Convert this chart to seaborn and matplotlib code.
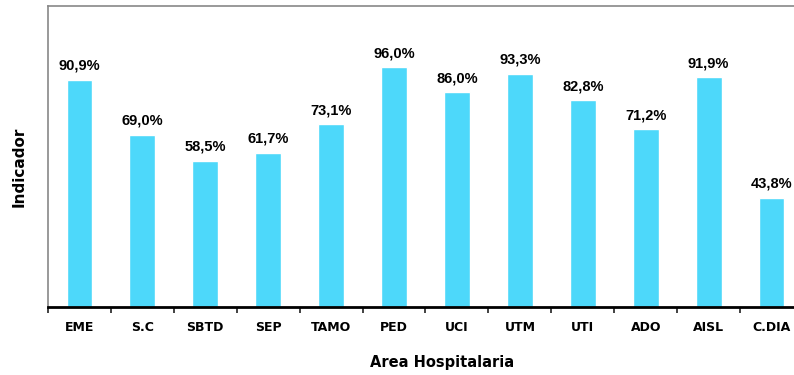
import matplotlib
matplotlib.use("Agg")
import matplotlib.pyplot as plt
import seaborn as sns
import pandas as pd
import numpy as np

areas = ["EME", "S.C", "SBTD", "SEP", "TAMO", "PED", "UCI", "UTM", "UTI", "ADO", "AISL", "C.DIA"]
indicador = [90.9, 69.0, 58.5, 61.7, 73.1, 96.0, 86.0, 93.3, 82.8, 71.2, 91.9, 43.8]

df = pd.DataFrame({"area": areas, "valor": indicador})

sns.set_theme(style="white")
plt.rcParams["font.family"] = ["DejaVu Sans"]
plt.rcParams["text.color"] = "black"
plt.rcParams["xtick.color"] = "black"

W, H = 794, 375
fig = plt.figure(figsize=(W / 100, H / 100), dpi=100)
# plot area runs slightly past the right edge of the figure
ax = fig.add_axes([48 / W, 68 / H, 755 / W, 301.5 / H])

sns.barplot(data=df, x="area", y="valor", color="#4DD8FA", saturation=1,
            width=0.41, ax=ax)

ax.set_ylim(0, 120.7)
ax.set_xlim(-0.5, len(areas) - 0.5)
ax.set_yticks([])

# category labels centred, tick marks on the category boundaries
ax.set_xticks(range(len(areas)))
ax.set_xticklabels(areas, fontsize=9, fontweight="bold", color="black")
ax.tick_params(axis="x", which="major", length=0, pad=10, labelcolor="black")
ax.set_xticks(np.arange(-0.5, len(areas), 1.0), minor=True)
ax.tick_params(axis="x", which="minor", length=4, width=1.3, color="#333333",
               direction="out", bottom=True)

for i, v in enumerate(indicador):
    ax.annotate(f"{v:.1f}%".replace(".", ","), (i, v), xytext=(0, 7.2),
                textcoords="offset points", ha="center", va="baseline",
                fontsize=10.5, fontweight="bold", family="Liberation Sans",
                color="black")

for side in ["top", "left"]:
    ax.spines[side].set_color("#888888")
    ax.spines[side].set_linewidth(1.2)
ax.spines["right"].set_visible(False)
ax.spines["bottom"].set_color("black")
ax.spines["bottom"].set_linewidth(2)

ax.set_xlabel("")
ax.set_ylabel("")
fig.text(442 / W, 8 / H, "Area Hospitalaria", ha="center", va="baseline",
         fontsize=10.5, fontweight="bold", color="black")
fig.text(19 / W, 1 - 167 / H, "Indicador", ha="center", va="center",
         rotation=90, fontsize=11, fontweight="bold", color="black")

fig.savefig("out.png", dpi=100)
